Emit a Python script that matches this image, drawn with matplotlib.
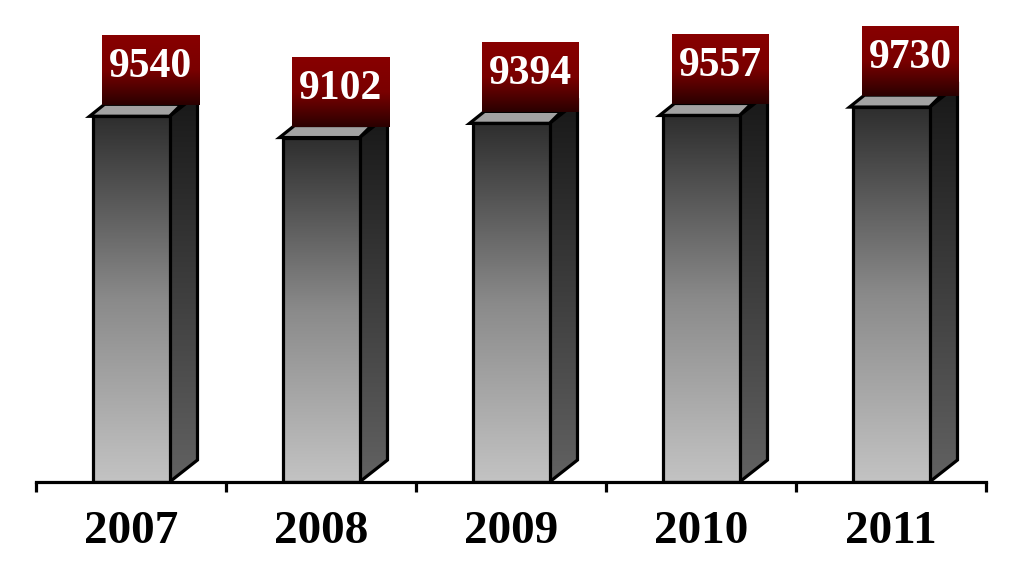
import numpy as np
import matplotlib
matplotlib.use("Agg")
import matplotlib.pyplot as plt
from matplotlib.patches import Polygon, Rectangle
from matplotlib.colors import LinearSegmentedColormap
import matplotlib.transforms as mtransforms

years = ['2007', '2008', '2009', '2010', '2011']
values = [9540, 9102, 9394, 9557, 9730]

W, H = 1025, 575
fig = plt.figure(figsize=(W / 100, H / 100), dpi=100)
fig.patch.set_facecolor('white')

# axes: baseline at y=482 px, categories span x=36..986 px
ax = fig.add_axes([36 / W, (H - 482) / H, 950 / W, 482 / H])
ymin = 2000
ymax = ymin + 482 / 0.0485
ax.set_xlim(-0.5, len(years) - 0.5)
ax.set_ylim(ymin, ymax)

# pixel -> data unit conversion
px_x = (len(years)) / 950.0
px_y = (ymax - ymin) / 482.0

front_cmap = LinearSegmentedColormap.from_list('front', ['#c3c3c3', '#8a8a8a', '#2e2e2e'])
side_cmap = LinearSegmentedColormap.from_list('side', ['#626262', '#181818'])
box_cmap = LinearSegmentedColormap.from_list('box', ['#2a0000', '#7a0000', '#880000'])
grad = np.linspace(0, 1, 256).reshape(-1, 1)

bar_w = 77 * px_x
dxs, dys = 28 * px_x, 22 * px_y
dxt, dyt = 12 * px_x, 12 * px_y
lw = 2.3

for i, v in enumerate(values):
    x0 = i - bar_w / 2
    x1 = i + bar_w / 2

    # side face
    side = Polygon([(x1, ymin), (x1 + dxs, ymin + dys), (x1 + dxs, v + dys), (x1, v)],
                   closed=True, facecolor='none', edgecolor='black', lw=lw, zorder=3)
    ax.add_patch(side)
    im = ax.imshow(grad, extent=[x1, x1 + dxs, ymin, v + dys], origin='lower',
                   aspect='auto', cmap=side_cmap, zorder=2)
    im.set_clip_path(side)

    # top face
    top = Polygon([(x0 - 3 * px_x, v), (x0 + dxt, v + dyt), (x1 + dxt, v + dyt), (x1, v)],
                  closed=True, facecolor='#a2a2a2', edgecolor='black', lw=lw, zorder=4)
    ax.add_patch(top)

    # front face
    front = Rectangle((x0, ymin), bar_w, v - ymin, facecolor='none',
                      edgecolor='black', lw=lw, zorder=5)
    ax.add_patch(front)
    im = ax.imshow(grad, extent=[x0, x1, ymin, v], origin='lower',
                   aspect='auto', cmap=front_cmap, zorder=4.5)
    im.set_clip_path(front)

    # value label box
    bx0 = i + 19 * px_x - 48 * px_x
    by0 = v + 11 * px_y
    bw, bh = 97 * px_x, 70 * px_y
    box = Rectangle((bx0, by0), bw, bh, facecolor='none', edgecolor='none', zorder=7)
    ax.add_patch(box)
    im = ax.imshow(grad, extent=[bx0, bx0 + bw, by0, by0 + bh], origin='lower',
                   aspect='auto', cmap=box_cmap, zorder=6)
    im.set_clip_path(box)
    ax.text(bx0 + bw / 2, by0 + bh / 2 + 3 * px_y, str(v), ha='center', va='center',
            color='white', fontsize=30, fontweight='bold',
            family='Liberation Serif', zorder=8)

ax.set_xlim(-0.5, len(years) - 0.5)
ax.set_ylim(ymin, ymax)

for s in ['top', 'left', 'right']:
    ax.spines[s].set_visible(False)
ax.spines['bottom'].set_linewidth(2.3)
ax.spines['bottom'].set_zorder(10)
ax.set_yticks([])
ax.set_xticks(np.arange(-0.5, len(years), 1.0))
ax.set_xticklabels([])
ax.tick_params(axis='x', direction='out', length=7.5, width=2.3, color='black')
ax.patch.set_alpha(0)

trans = mtransforms.blended_transform_factory(ax.transData, fig.transFigure)
for i, yr in enumerate(years):
    ax.text(i, (H - 532) / H, yr, transform=trans, ha='center', va='center',
            fontsize=34, fontweight='bold', family='Liberation Serif', color='black')

fig.savefig('out.png', dpi=100)
